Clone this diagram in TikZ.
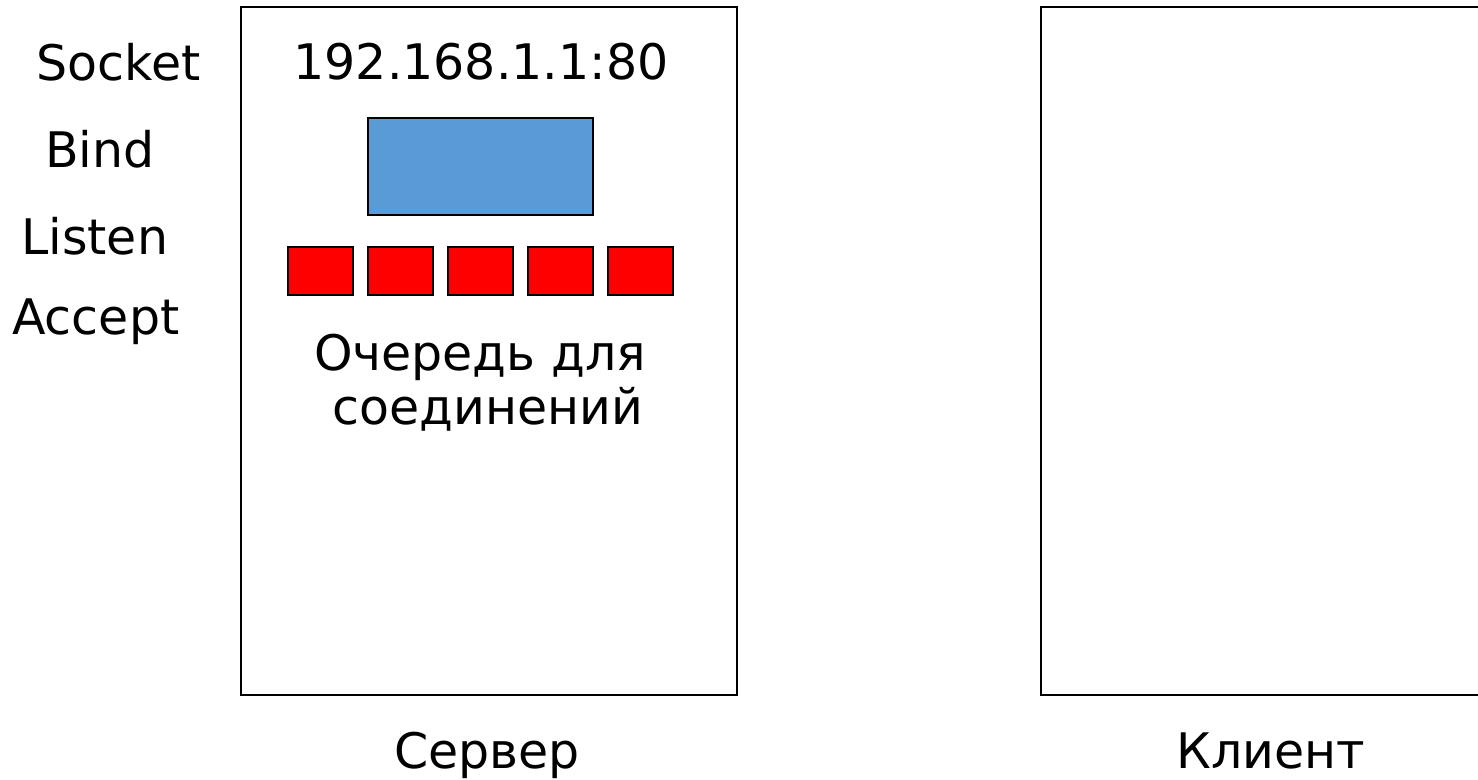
\documentclass[tikz,border=0pt]{standalone}
\usepackage{fontspec}
\setmainfont{DejaVu Sans}
\definecolor{sockblue}{HTML}{5B9BD5}
\definecolor{queuered}{HTML}{FF0000}

\begin{document}
\begin{tikzpicture}[x=0.5pt, y=-0.5pt, line width=1.3pt,
  lbl/.style={font=\fontsize{24.5}{29}\selectfont, inner sep=0pt, anchor=base},
  call/.style={lbl, anchor=base west}]
  \useasboundingbox (0,0) rectangle (1478,780);
  % сервер и клиент
  \draw (241,7) rectangle (737,695);
  \draw (1041,7) rectangle (1490,695);
  % сокет
  \draw[fill=sockblue, line width=1.2pt] (368,118) rectangle (593,215);
  % очередь
  \foreach \i in {0,...,4}
    \draw[fill=queuered, line width=1.2pt] (288+80*\i,247) rectangle ++(65,48);
  % вызовы
  \node[call] (socket) at (35,81) {Socket};
  \node[call] (bind) at (44,168) {Bind};
  \node[call] (listen) at (20,255) {Listen};
  \node[call] (accept) at (11,335) {Accept};
  % подписи
  \node[lbl] (addr) at (481,80) {192.168.1.1:80};
  \node[lbl] (queue) at (480,371) {Очередь для};
  \node[lbl] (queue2) at (488,425) {соединений};
  \node[lbl] (server) at (487,768) {Сервер};
  \node[lbl] (client) at (1271,768) {Клиент};
\end{tikzpicture}
\end{document}
